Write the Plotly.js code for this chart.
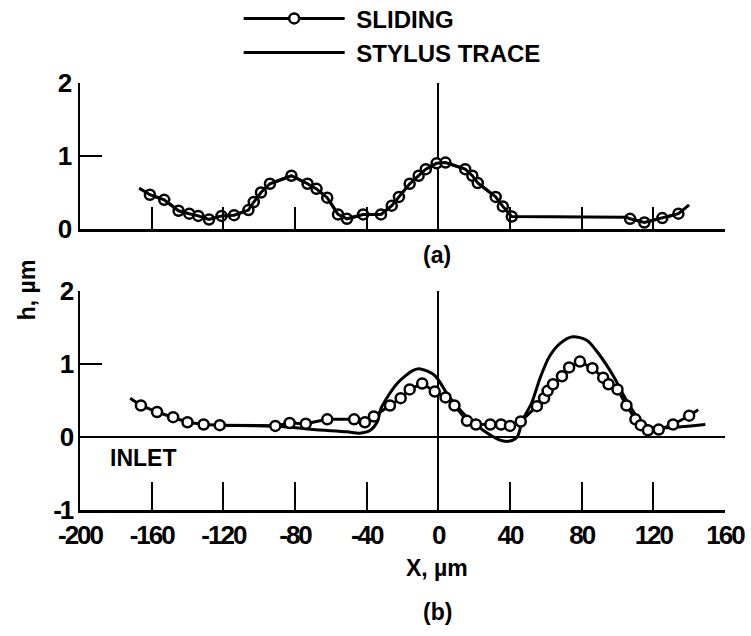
<!DOCTYPE html>
<html>
<head>
<meta charset="utf-8">
<script src="https://cdn.plot.ly/plotly-3.0.1.min.js"></script>
<style>
  html, body { margin: 0; padding: 0; background: #fff; }
  #chart { width: 751px; height: 636px; }
</style>
</head>
<body>
<div id="chart"></div>
<script>
// ---- Surface profile data, h (µm) against X (µm) ----

// (a) sliding measurements (circles); null breaks the line where no points were taken
const slideAX = [-161, -153, -145, -139, -134, -128, -121, -114, -106, -103, -99, -94, -82, -73, -68, -62, -56, -51, -42, -32, -26, -22, -16, -11, -7, -1, 4, 15, 19, 22, 32, 36, 41, null, 107, 115, 125, 134];
const slideAY = [0.47, 0.40, 0.25, 0.21, 0.18, 0.13, 0.18, 0.19, 0.26, 0.37, 0.50, 0.62, 0.73, 0.62, 0.55, 0.43, 0.20, 0.14, 0.20, 0.20, 0.32, 0.44, 0.62, 0.73, 0.82, 0.90, 0.91, 0.82, 0.73, 0.63, 0.44, 0.31, 0.17, null, 0.14, 0.09, 0.15, 0.21];

// (a) stylus trace
const stylusAX = [-167, -161, -153, -145, -139, -134, -128, -121, -114, -106, -103, -99, -94, -82, -73, -68, -62, -56, -51, -42, -32, -26, -22, -16, -11, -7, -1, 4, 15, 19, 22, 32, 36, 41, 105, 107, 115, 125, 134, 140];
const stylusAY = [0.56, 0.47, 0.40, 0.25, 0.21, 0.18, 0.13, 0.18, 0.19, 0.26, 0.37, 0.50, 0.62, 0.73, 0.62, 0.55, 0.43, 0.20, 0.14, 0.20, 0.20, 0.32, 0.44, 0.62, 0.73, 0.82, 0.90, 0.91, 0.82, 0.73, 0.63, 0.44, 0.31, 0.17, 0.16, 0.14, 0.09, 0.15, 0.21, 0.33];

// (b) sliding measurements; first and last entries are the lead-in / lead-out of the line
const slideBX = [-172, -166, -157, -148, -140, -131, -122, -91, -83, -74, -62, -47, -41, -36, -27, -21, -16, -9, -2, 4, 9, 16, 21, 29, 35, 40, 46, 55, 59, 61, 64, 69, 73, 79, 86, 92, 95, 100, 105, 110, 113, 117, 123, 131, 140, 145];
const slideBY = [0.53, 0.43, 0.34, 0.27, 0.20, 0.17, 0.16, 0.15, 0.19, 0.18, 0.24, 0.24, 0.20, 0.28, 0.43, 0.53, 0.65, 0.73, 0.62, 0.54, 0.43, 0.22, 0.17, 0.17, 0.17, 0.15, 0.21, 0.42, 0.53, 0.63, 0.72, 0.83, 0.95, 1.03, 0.94, 0.81, 0.72, 0.65, 0.43, 0.24, 0.16, 0.09, 0.10, 0.17, 0.29, 0.37];

// (b) stylus trace
const stylusBX = [-122, -91, -70, -51, -44, -38, -34, -32, -23, -14, -10, -2, 6, 16, 25, 34, 39, 44, 47, 52, 57, 62, 68, 75, 83, 90, 98, 105, 113, 120, 149];
const stylusBY = [0.16, 0.15, 0.10, 0.07, 0.05, 0.09, 0.21, 0.39, 0.73, 0.91, 0.93, 0.84, 0.55, 0.27, 0.09, -0.04, -0.06, 0.00, 0.23, 0.46, 0.82, 1.10, 1.28, 1.37, 1.32, 1.12, 0.82, 0.50, 0.21, 0.13, 0.17];

// axis ticks
const xTicks = [-200, -160, -120, -80, -40, 0, 40, 80, 120, 160];
const xTickText = ['-200', '-160', '-120', '-80', '-40', '0', '40', '80', '120', '160'];
const xTicksTop = [-160, -120, -80, -40, 0, 40, 80, 120, 160];
const yTicksA = [0, 1, 2];
const yTicksB = [-1, 0, 1, 2];
const yTickTextB = ['-1', '0', '1', '2'];

// ---- styling ----
const INK = '#000';
const SANS = '"Liberation Sans", Arial, sans-serif';
const tickFont = { family: SANS, size: 26, weight: 'bold', color: INK };
const textFont = { family: SANS, size: 23, weight: 'bold', color: INK };
// tight lettering for the numerals
const tight = s => '<span style="letter-spacing:-2px">' + s + '</span>';

const lineStyle = { color: INK, width: 3 };
const circle = { symbol: 'circle', size: 10, color: '#fff', line: { color: INK, width: 2.5 } };

const traces = [
  { x: slideAX, y: slideAY, xaxis: 'x2', yaxis: 'y2', mode: 'lines+markers', name: ' SLIDING',
    legendgroup: 's', line: lineStyle, marker: circle, connectgaps: false },
  { x: stylusAX, y: stylusAY, xaxis: 'x2', yaxis: 'y2', mode: 'lines', name: ' STYLUS TRACE',
    legendgroup: 't', line: lineStyle },
  { x: stylusBX, y: stylusBY, xaxis: 'x', yaxis: 'y', mode: 'lines', name: 'STYLUS TRACE',
    legendgroup: 't', showlegend: false, line: Object.assign({ shape: 'spline', smoothing: 0.8 }, lineStyle) },
  // (b) sliding: full line including lead-in/out, circles on the measured points only
  { x: slideBX, y: slideBY, xaxis: 'x', yaxis: 'y', mode: 'lines', name: 'SLIDING',
    legendgroup: 's', showlegend: false, line: lineStyle },
  { x: slideBX.slice(1, -1), y: slideBY.slice(1, -1), xaxis: 'x', yaxis: 'y', mode: 'markers', name: 'SLIDING',
    legendgroup: 's', showlegend: false, marker: circle }
];

const axisBase = {
  showline: true, linecolor: INK, linewidth: 2.5,
  ticks: 'inside', tickcolor: INK, tickwidth: 2,
  showgrid: false, zeroline: true, zerolinecolor: INK, zerolinewidth: 2,
  fixedrange: true
};

const layout = {
  width: 751, height: 636,
  paper_bgcolor: '#fff', plot_bgcolor: 'rgba(0,0,0,0)',
  margin: { l: 80, r: 26, t: 83, b: 126, autoexpand: false },
  showlegend: true,
  legend: {
    x: 0.246, xanchor: 'left', y: 1.203, yanchor: 'top',
    bgcolor: 'rgba(0,0,0,0)', borderwidth: 0,
    font: { family: SANS, size: 24, weight: 'bold', color: INK },
    itemwidth: 101, tracegroupgap: 0, traceorder: 'normal'
  },
  // bottom panel (b)
  xaxis: Object.assign({}, axisBase, {
    domain: [0, 1], range: [-200, 160], anchor: 'y',
    tickmode: 'array', tickvals: xTicks, ticktext: xTickText.map(tight), tickangle: 0,
    ticklen: 28, tickfont: tickFont
  }),
  yaxis: Object.assign({}, axisBase, {
    domain: [0, 0.5136], range: [-1, 2], anchor: 'x',
    tickmode: 'array', tickvals: yTicksB, ticktext: yTickTextB.map(tight),
    ticklen: 22, tickfont: tickFont
  }),
  // top panel (a)
  xaxis2: Object.assign({}, axisBase, {
    domain: [0, 1], range: [-200, 160], anchor: 'y2',
    tickmode: 'array', tickvals: xTicksTop, showticklabels: false, ticklen: 22
  }),
  yaxis2: Object.assign({}, axisBase, {
    domain: [0.658, 1], range: [0, 2], anchor: 'x2',
    tickmode: 'array', tickvals: yTicksA, ticklen: 22, tickfont: tickFont
  }),
  annotations: [
    { text: '(a)', xref: 'paper', yref: 'paper', x: 0.5535, y: 0.597, showarrow: false,
      xanchor: 'center', yanchor: 'middle', font: textFont },
    { text: 'INLET', xref: 'paper', yref: 'paper', x: 0.0434, y: 0.122, showarrow: false,
      xanchor: 'left', yanchor: 'middle', font: textFont },
    { text: 'X, µm', xref: 'paper', yref: 'paper', x: 0.5535, y: -0.136, showarrow: false,
      xanchor: 'center', yanchor: 'middle', font: textFont },
    { text: '(b)', xref: 'paper', yref: 'paper', x: 0.5535, y: -0.239, showarrow: false,
      xanchor: 'center', yanchor: 'middle', font: textFont },
    { text: 'h, µm', xref: 'paper', yref: 'paper', x: -0.082, y: 0.515, showarrow: false,
      textangle: -90, xanchor: 'center', yanchor: 'middle', font: textFont }
  ]
};

Plotly.newPlot('chart', traces, layout, { displayModeBar: false, staticPlot: true });
</script>
</body>
</html>
